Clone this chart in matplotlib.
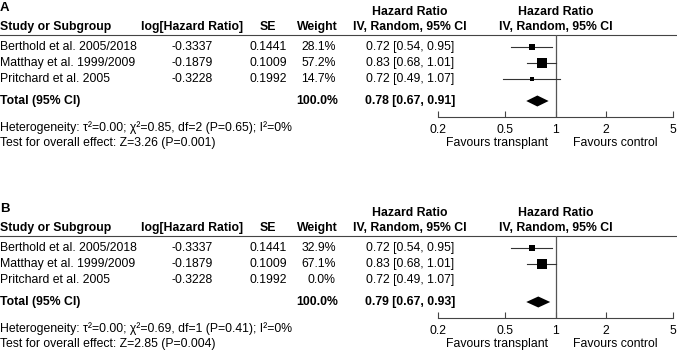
import numpy as np
import matplotlib
matplotlib.use('Agg')
import matplotlib.pyplot as plt
from matplotlib.lines import Line2D

plt.rcParams['font.family'] = ['Liberation Sans', 'DejaVu Sans']

# data of the two meta-analyses
studies = ['Berthold et al. 2005/2018', 'Matthay et al. 1999/2009', 'Pritchard et al. 2005']
log_hr = ['-0.3337', '-0.1879', '-0.3228']
se = ['0.1441', '0.1009', '0.1992']
hr = [0.72, 0.83, 0.72]
ci_low = [0.54, 0.68, 0.49]
ci_high = [0.95, 1.01, 1.07]

weights_a = [28.1, 57.2, 14.7]
weights_b = [32.9, 67.1, 0.0]

total_a = [0.78, 0.67, 0.91]
total_b = [0.79, 0.67, 0.93]

het_a = 'Heterogeneity: τ²=0.00; χ²=0.85, df=2 (P=0.65); I²=0%'
het_b = 'Heterogeneity: τ²=0.00; χ²=0.69, df=1 (P=0.41); I²=0%'
test_a = 'Test for overall effect: Z=3.26 (P=0.001)'
test_b = 'Test for overall effect: Z=2.85 (P=0.004)'

ticks = [0.2, 0.5, 1, 2, 5]
tick_labels = ['0.2', '0.5', '1', '2', '5']

W, H = 677, 351
fig = plt.figure(figsize=(W / 100, H / 100), dpi=100)
bg = fig.add_axes([0, 0, 1, 1])
bg.set_xlim(0, W)
bg.set_ylim(H, 0)
bg.axis('off')

FS = 8.8


def panel(off, letter, weights, total, het, test):
    bg.text(0, off + 8, letter, fontsize=9.5, fontweight='bold', va='center')
    # header
    bg.text(0, off + 27, 'Study or Subgroup', fontsize=FS, fontweight='bold', va='center')
    bg.text(192, off + 27, 'log[Hazard Ratio]', fontsize=FS, fontweight='bold', va='center', ha='center')
    bg.text(268, off + 27, 'SE', fontsize=FS, fontweight='bold', va='center', ha='center')
    bg.text(338, off + 27, 'Weight', fontsize=FS, fontweight='bold', va='center', ha='right')
    for xc in (410, 556):
        bg.text(xc, off + 12, 'Hazard Ratio', fontsize=FS, fontweight='bold', va='center', ha='center')
        bg.text(xc, off + 27, 'IV, Random, 95% CI', fontsize=FS, fontweight='bold', va='center', ha='center')
    bg.add_line(Line2D([0, W], [off + 35, off + 35], color='#444444', lw=0.8))

    # study rows
    for i in range(len(studies)):
        y = off + 47 + 16 * i
        bg.text(0, y, studies[i], fontsize=FS, va='center')
        bg.text(192, y, log_hr[i], fontsize=FS, va='center', ha='center')
        bg.text(268, y, se[i], fontsize=FS, va='center', ha='center')
        bg.text(336, y, '%.1f%%' % weights[i], fontsize=FS, va='center', ha='right')
        bg.text(410, y, '%.2f [%.2f, %.2f]' % (hr[i], ci_low[i], ci_high[i]),
                fontsize=FS, va='center', ha='center')

    y = off + 101
    bg.text(0, y, 'Total (95% CI)', fontsize=FS, fontweight='bold', va='center')
    bg.text(338, y, '100.0%', fontsize=FS, fontweight='bold', va='center', ha='right')
    bg.text(410, y, '%.2f [%.2f, %.2f]' % tuple(total), fontsize=FS, fontweight='bold',
            va='center', ha='center')
    bg.text(0, off + 128, het, fontsize=FS, va='center')
    bg.text(0, off + 143, test, fontsize=FS, va='center')

    # forest plot
    x0, x1 = 438, 673
    top, bot = off + 35, off + 117
    ax = fig.add_axes([x0 / W, 1 - bot / H, (x1 - x0) / W, (bot - top) / H])
    ax.set_xscale('log')
    ax.set_xlim(0.2, 5)
    ax.set_ylim(bot, top)
    ax.patch.set_alpha(0)
    for s in ('top', 'right', 'left'):
        ax.spines[s].set_visible(False)
    ax.spines['bottom'].set_color('#444444')
    ax.spines['bottom'].set_linewidth(0.8)
    ax.set_yticks([])
    ax.set_xticks(ticks)
    ax.set_xticklabels(tick_labels, fontsize=FS)
    ax.minorticks_off()
    ax.tick_params(axis='x', direction='in', length=4, width=0.8, color='#444444', pad=5)
    ax.axvline(1, color='#555555', lw=0.9)

    for i in range(len(studies)):
        if weights[i] <= 0:
            continue
        y = off + 47 + 16 * i
        ax.plot([ci_low[i], ci_high[i]], [y, y], color='#333333', lw=0.8)
        ax.plot(hr[i], y, marker='s', color='black', ms=2.2 + 0.085 * weights[i], mew=0)

    y = off + 101
    est, lo, hi = total
    ax.fill([lo, est, hi, est], [y, y - 5.5, y, y + 5.5], color='black', lw=0)

    bg.text(497, off + 143, 'Favours transplant', fontsize=FS, va='center', ha='center')
    bg.text(615, off + 143, 'Favours control', fontsize=FS, va='center', ha='center')


panel(0, 'A', weights_a, total_a, het_a, test_a)
panel(201, 'B', weights_b, total_b, het_b, test_b)

fig.savefig('out.png', dpi=100)
